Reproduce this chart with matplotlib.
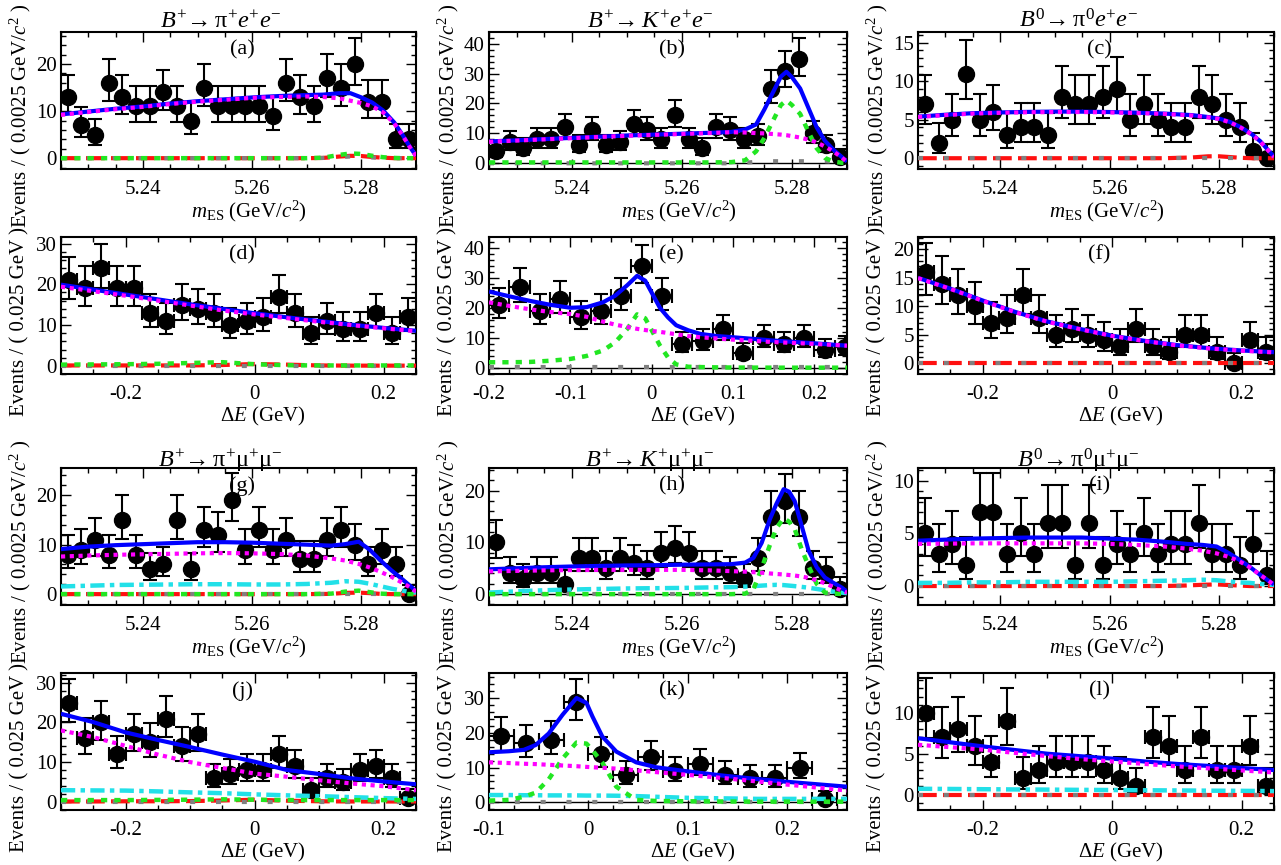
import numpy as np
import matplotlib
matplotlib.use('Agg')
import matplotlib.pyplot as plt
from matplotlib.ticker import MultipleLocator, FuncFormatter

plt.rcParams['font.family'] = ['Liberation Serif', 'DejaVu Serif']
plt.rcParams['mathtext.fontset'] = 'custom'
plt.rcParams['mathtext.rm'] = 'Liberation Serif'
plt.rcParams['mathtext.it'] = 'Liberation Serif:italic'
plt.rcParams['mathtext.bf'] = 'Liberation Serif:bold'
plt.rcParams['axes.unicode_minus'] = False

# ---- binned data (events per bin) ----
a_n = [13, 7, 5, 16, 13, 11, 11, 14, 11, 8, 15, 11, 11, 11, 11, 9, 16, 13, 11, 17, 15, 20, 12, 12, 4, 4]
b_n = [4, 7, 5, 8, 8, 12, 6, 11, 6, 7, 13, 11, 8, 16, 8, 5, 12, 11, 8, 9, 25, 31, 35, 10, 6, 2]
c_n = [7, 2, 5, 11, 5, 6, 3, 4, 4, 3, 8, 7, 7, 8, 9, 5, 7, 5, 4, 4, 8, 7, 5, 4, 1, 0]
d_n = [21, 19, 24, 19, 19, 13, 11, 15, 14, 13, 10, 11, 12, 17, 13, 8, 11, 9, 9, 13, 8, 12]
e_n = [21, 27, 19, 23, 17, 19, 24, 34, 24, 8, 9, 13, 5, 10, 8, 10, 6, 7]
f_n = [16, 14, 12, 10, 7, 8, 12, 8, 5, 6, 5, 4, 3, 6, 3, 2, 5, 5, 2, 0, 4, 2]
g_n = [8, 9, 11, 8, 15, 8, 5, 6, 15, 5, 13, 12, 19, 9, 13, 9, 11, 7, 7, 11, 13, 10, 6, 9, 6, 0]
h_n = [10, 4, 3, 4, 4, 2, 7, 7, 5, 7, 6, 5, 8, 9, 8, 5, 5, 4, 3, 7, 15, 18, 15, 5, 4, 1]
i_n = [5, 3, 4, 2, 7, 7, 3, 5, 3, 6, 6, 2, 6, 2, 4, 3, 5, 3, 4, 4, 6, 3, 3, 2, 4, 1]
j_n = [25, 16, 20, 12, 17, 15, 21, 14, 17, 6, 7, 8, 8, 12, 9, 3, 6, 5, 8, 9, 6, 1]
k_n = [19, 17, 18, 29, 14, 8, 13, 9, 11, 8, 7, 7, 10, 1]
l_n = [10, 7, 8, 6, 4, 9, 2, 3, 4, 4, 4, 3, 2, 1, 7, 6, 3, 7, 3, 3, 6, 1]

# ---- fit curves (x knots, then each component) ----
a_kx = [5.2250, 5.2300, 5.2350, 5.2400, 5.2450, 5.2500, 5.2550, 5.2600, 5.2650, 5.2700,
        5.2730, 5.2760, 5.2780, 5.2800, 5.2820, 5.2840, 5.2860, 5.2875, 5.2890, 5.2900]
a_tot = [9.3, 9.9, 10.5, 11.0, 11.6, 12.1, 12.5, 12.9, 13.2, 13.4, 13.5, 13.8, 13.8, 12.9, 11.8, 10.1, 7.6, 5.0, 2.2, 0.5]
a_comb = [9.2, 9.8, 10.4, 10.9, 11.5, 12.0, 12.4, 12.8, 13.0, 13.1, 13.0, 12.7, 12.2, 11.7, 11.0, 9.7, 7.4, 4.9, 2.1, 0.5]
a_sig = [0, 0, 0, 0, 0, 0, 0, 0, 0, 0, 0.1, 0.7, 1.0, 0.9, 0.5, 0.2, 0.05, 0, 0, 0]
a_peak = [0, 0, 0, 0, 0, 0, 0, 0, 0, 0, 0.05, 0.35, 0.5, 0.45, 0.25, 0.1, 0, 0, 0, 0]
a_gray = [0, 0, 0, 0, 0, 0, 0, 0, 0, 0, 0.05, 0.25, 0.35, 0.3, 0.15, 0.05, 0, 0, 0, 0]

b_kx = [5.2250, 5.2300, 5.2350, 5.2400, 5.2450, 5.2500, 5.2550, 5.2600, 5.2650, 5.2690, 5.2715, 5.2735,
        5.2750, 5.2765, 5.2780, 5.2790, 5.2800, 5.2815, 5.2830, 5.2845, 5.2860, 5.2875, 5.2890, 5.2900]
b_tot = [7.3, 7.7, 8.1, 8.5, 8.9, 9.3, 9.6, 9.9, 10.2, 10.5, 11.3, 13.0, 18.0, 23.5, 29.0, 30.6, 28.8, 25.0, 18.5, 12.0, 7.5, 4.6, 2.2, 0.6]
b_comb = [7.2, 7.6, 8.0, 8.4, 8.8, 9.2, 9.5, 9.8, 10.1, 10.4, 10.3, 10.1, 10.0, 9.8, 9.6, 9.4, 9.1, 8.6, 7.9, 7.0, 5.6, 4.0, 2.0, 0.5]
b_sig = [0.3, 0.3, 0.3, 0.3, 0.3, 0.3, 0.3, 0.3, 0.3, 0.4, 1.0, 4.0, 8.5, 14.0, 19.5, 21.0, 19.5, 16.5, 10.5, 5.0, 1.8, 0.6, 0.2, 0.1]
b_gray = [0, 0, 0, 0, 0, 0, 0, 0, 0, 0, 0.2, 0.5, 0.7, 0.7, 0.7, 0.7, 0.7, 0.7, 0.7, 0.7, 0.7, 0.5, 0.3, 0.2]

c_kx = [5.2250, 5.2300, 5.2350, 5.2400, 5.2450, 5.2500, 5.2550, 5.2600, 5.2650, 5.2700,
        5.2750, 5.2780, 5.2800, 5.2820, 5.2840, 5.2860, 5.2875, 5.2890, 5.2900]
c_tot = [5.4, 5.65, 5.85, 5.95, 6.02, 6.06, 6.05, 6.0, 5.92, 5.8, 5.6, 5.35, 5.15, 4.7, 4.0, 3.1, 2.2, 1.0, 0.2]
c_comb = [5.35, 5.6, 5.8, 5.9, 5.97, 6.0, 6.0, 5.95, 5.87, 5.75, 5.55, 5.3, 5.1, 4.65, 3.95, 3.05, 2.15, 0.95, 0.15]
c_peak = [0, 0, 0, 0, 0, 0, 0, 0, 0, 0, 0.1, 0.25, 0.25, 0.15, 0.05, 0, 0, 0, 0]
c_gray = [0, 0, 0, 0, 0, 0, 0, 0, 0, 0, 0, 0, 0, 0, 0, 0, 0, 0, 0]

d_kx = [-0.30, -0.25, -0.20, -0.15, -0.10, -0.05, 0.00, 0.05, 0.10, 0.15, 0.20, 0.25]
d_tot = [19.9, 18.7, 17.5, 16.3, 15.1, 14.0, 12.9, 11.9, 11.0, 10.1, 9.3, 8.6]
d_comb = [19.4, 18.3, 17.2, 16.0, 14.8, 13.6, 12.6, 11.7, 10.8, 10.0, 9.2, 8.5]
d_sig = [0.3, 0.35, 0.4, 0.5, 0.7, 0.9, 0.4, 0.15, 0.1, 0.1, 0.1, 0.1]
d_peak = [0.1, 0.1, 0.1, 0.1, 0.1, 0.2, 0.45, 0.3, 0.1, 0.05, 0.05, 0.05]
d_gray = [0, 0, 0, 0, 0, 0, 0, 0, 0, 0, 0, 0]

e_kx = [-0.200, -0.175, -0.150, -0.125, -0.100, -0.080, -0.060, -0.045, -0.030, -0.018, -0.008,
        0.000, 0.010, 0.020, 0.030, 0.045, 0.060, 0.080, 0.100, 0.150, 0.200, 0.240]
e_tot = [25.4, 23.8, 22.3, 21.0, 20.0, 20.2, 21.8, 24.0, 27.5, 30.6, 29.0, 25.0, 20.0, 16.8, 14.2, 12.5, 11.3, 10.6, 10.2, 9.1, 8.2, 7.4]
e_comb = [21.8, 20.6, 19.5, 18.6, 17.9, 17.0, 15.4, 14.4, 13.6, 13.0, 12.6, 12.3, 12.0, 11.6, 11.2, 10.6, 10.2, 9.8, 9.4, 8.6, 8.0, 7.4]
e_sig = [1.9, 1.9, 2.0, 2.4, 3.0, 4.0, 5.8, 8.5, 13.0, 17.8, 16.5, 12.5, 7.5, 3.5, 1.2, 0.4, 0.3, 0.2, 0.15, 0.1, 0.1, 0.1]
e_gray = [0.4, 0.4, 0.4, 0.4, 0.4, 0.4, 0.4, 0.4, 0.4, 0.4, 0.4, 0.4, 0.4, 0.4, 0.4, 0.4, 0.4, 0.4, 0.4, 0.4, 0.4, 0.4]

f_kx = [-0.30, -0.25, -0.20, -0.15, -0.10, -0.05, 0.00, 0.05, 0.10, 0.15, 0.20, 0.25]
f_tot = [15.0, 13.1, 11.0, 9.0, 7.3, 6.0, 4.8, 3.9, 3.15, 2.6, 2.2, 1.9]
f_comb = [14.95, 13.05, 10.95, 8.95, 7.25, 5.95, 4.75, 3.85, 3.1, 2.55, 2.15, 1.85]
f_peak = [0, 0, 0, 0, 0, 0, 0, 0, 0, 0, 0, 0]
f_gray = [0, 0, 0, 0, 0, 0, 0, 0, 0, 0, 0, 0]

g_kx = [5.2250, 5.2300, 5.2350, 5.2400, 5.2450, 5.2500, 5.2550, 5.2600, 5.2650, 5.2700,
        5.2745, 5.2770, 5.2795, 5.2815, 5.2835, 5.2855, 5.2875, 5.2890, 5.2900]
g_tot = [9.1, 9.6, 9.9, 10.1, 10.3, 10.5, 10.5, 10.4, 10.2, 10.0, 9.8, 10.1, 10.6, 9.0, 6.8, 4.8, 3.0, 1.6, 0.6]
g_comb = [7.6, 7.8, 7.95, 8.05, 8.15, 8.25, 8.3, 8.25, 8.1, 7.8, 7.2, 6.8, 6.1, 5.4, 4.5, 3.5, 2.3, 1.3, 0.5]
g_cyan = [1.55, 1.7, 1.85, 1.9, 1.95, 2.0, 2.0, 1.95, 1.95, 2.05, 2.3, 2.6, 2.5, 2.1, 1.6, 1.1, 0.7, 0.4, 0.3]
g_sig = [0, 0, 0, 0, 0, 0, 0, 0, 0, 0, 0.1, 0.5, 0.7, 0.4, 0.1, 0, 0, 0, 0]
g_peak = [0, 0, 0, 0, 0, 0, 0, 0, 0, 0, 0.05, 0.25, 0.3, 0.2, 0.05, 0, 0, 0, 0]
g_gray = [0, 0, 0, 0, 0, 0, 0, 0, 0, 0, 0, 0, 0, 0, 0, 0, 0, 0, 0]

h_kx = [5.2250, 5.2300, 5.2350, 5.2400, 5.2450, 5.2500, 5.2550, 5.2600, 5.2650, 5.2690, 5.2715, 5.2730, 5.2745,
        5.2760, 5.2772, 5.2785, 5.2795, 5.2805, 5.2818, 5.2830, 5.2845, 5.2860, 5.2875, 5.2890, 5.2900]
h_tot = [4.8, 5.0, 5.2, 5.35, 5.45, 5.55, 5.6, 5.7, 5.75, 5.8, 6.1, 7.0, 9.9, 14.5, 17.5, 20.3, 19.8, 18.0, 13.1, 8.5, 5.2, 3.2, 2.2, 1.3, 0.5]
h_comb = [4.4, 4.5, 4.6, 4.65, 4.7, 4.7, 4.7, 4.7, 4.6, 4.45, 4.35, 4.25, 4.15, 4.0, 3.9, 3.8, 3.7, 3.6, 3.4, 3.15, 2.7, 2.1, 1.4, 0.7, 0.3]
h_cyan = [0.3, 0.55, 0.75, 0.9, 1.0, 1.1, 1.15, 1.2, 1.3, 1.35, 1.45, 1.55, 1.65, 1.75, 1.8, 1.75, 1.65, 1.55, 1.4, 1.25, 1.0, 0.75, 0.5, 0.3, 0.2]
h_sig = [0, 0, 0, 0, 0, 0, 0, 0, 0, 0, 0.1, 0.9, 5.0, 9.5, 12.8, 14.7, 14.0, 12.6, 8.6, 5.5, 2.0, 0.3, 0.1, 0.05, 0]
h_gray = [0, 0, 0, 0, 0, 0, 0, 0, 0, 0, 0, 0, 0, 0, 0, 0, 0, 0, 0, 0, 0, 0, 0, 0, 0]

i_kx = [5.2250, 5.2300, 5.2350, 5.2400, 5.2450, 5.2500, 5.2550, 5.2600, 5.2650, 5.2700,
        5.2740, 5.2770, 5.2795, 5.2815, 5.2835, 5.2855, 5.2875, 5.2890, 5.2900]
i_tot = [4.3, 4.4, 4.5, 4.55, 4.6, 4.6, 4.6, 4.5, 4.4, 4.2, 4.0, 3.9, 3.75, 3.2, 2.55, 1.85, 1.05, 0.5, 0.15]
i_comb = [4.0, 4.02, 4.05, 4.05, 4.05, 4.05, 4.05, 4.0, 3.9, 3.75, 3.55, 3.35, 3.1, 2.8, 2.4, 1.8, 1.05, 0.5, 0.1]
i_cyan = [0.3, 0.3, 0.35, 0.35, 0.4, 0.4, 0.4, 0.4, 0.45, 0.5, 0.55, 0.6, 0.55, 0.45, 0.35, 0.3, 0.2, 0.15, 0.1]
i_peak = [0, 0, 0, 0, 0, 0, 0, 0, 0, 0, 0.05, 0.12, 0.15, 0.1, 0.05, 0, 0, 0, 0]
i_gray = [0, 0, 0, 0, 0, 0, 0, 0, 0, 0, 0, 0, 0, 0, 0, 0, 0, 0, 0]

j_kx = [-0.30, -0.25, -0.20, -0.15, -0.10, -0.05, 0.00, 0.05, 0.10, 0.15, 0.20, 0.25]
j_tot = [22.2, 20.1, 17.5, 15.6, 13.8, 11.9, 10.1, 8.0, 7.0, 5.9, 5.1, 4.4]
j_comb = [18.0, 16.3, 14.1, 11.9, 10.0, 8.5, 7.1, 6.3, 5.4, 4.6, 3.9, 2.9]
j_cyan = [2.9, 2.85, 2.8, 2.6, 2.35, 2.15, 1.85, 1.6, 1.4, 1.15, 0.9, 0.7]
j_sig = [0.4, 0.4, 0.4, 0.45, 0.5, 0.6, 0.5, 0.4, 0.4, 0.4, 0.4, 0.4]
j_peak = [0.05, 0.05, 0.1, 0.1, 0.15, 0.3, 0.5, 0.25, 0.1, 0.05, 0.05, 0.05]
j_gray = [0, 0, 0, 0, 0, 0, 0, 0, 0, 0, 0, 0]

k_kx = [-0.100, -0.080, -0.065, -0.053, -0.040, -0.026, -0.012, -0.002, 0.004, 0.014, 0.028,
        0.048, 0.068, 0.100, 0.135, 0.170, 0.200, 0.260]
k_tot = [14.4, 14.7, 15.1, 16.5, 19.8, 25.2, 30.0, 28.6, 24.7, 18.9, 14.6, 11.5, 10.1, 8.9, 7.7, 6.7, 5.9, 4.5]
k_comb = [11.5, 11.3, 11.1, 11.0, 10.8, 10.6, 10.4, 10.2, 10.1, 9.95, 9.7, 9.2, 8.7, 7.9, 7.0, 6.0, 5.1, 3.4]
k_sig = [0.5, 0.7, 1.6, 2.8, 6.6, 12.6, 17.2, 16.9, 15.0, 11.4, 4.5, 0.7, 0.4, 0.3, 0.25, 0.2, 0.2, 0.2]
k_cyan = [2.1, 2.1, 2.05, 2.05, 2.0, 2.0, 2.0, 1.95, 1.95, 1.95, 1.9, 1.8, 1.6, 1.3, 1.15, 1.0, 1.0, 1.0]
k_gray = [0, 0, 0, 0, 0, 0, 0, 0, 0, 0, 0, 0, 0, 0, 0, 0, 0, 0]

l_kx = [-0.30, -0.25, -0.20, -0.15, -0.10, -0.05, 0.00, 0.05, 0.10, 0.15, 0.20, 0.25]
l_tot = [6.9, 6.4, 5.9, 5.45, 5.0, 4.7, 4.4, 4.05, 3.75, 3.5, 3.25, 3.0]
l_comb = [6.1, 5.8, 5.5, 5.1, 4.7, 4.35, 4.05, 3.75, 3.45, 3.2, 2.95, 2.7]
l_cyan = [0.7, 0.68, 0.65, 0.62, 0.6, 0.57, 0.55, 0.52, 0.5, 0.47, 0.45, 0.42]
l_peak = [0, 0, 0, 0, 0, 0, 0, 0, 0, 0, 0, 0]
l_gray = [0, 0, 0, 0, 0, 0, 0, 0, 0, 0, 0, 0]

# titles / labels
titles = {
    'a': r'$B^{+}\!\rightarrow \mathrm{\pi}^{+}e^{+}e^{-}$',
    'b': r'$B^{+}\!\rightarrow K^{+}e^{+}e^{-}$',
    'c': r'$B^{\mathit{0}}\!\rightarrow \mathrm{\pi}^{\mathit{0}}e^{+}e^{-}$',
    'g': r'$B^{+}\!\rightarrow \mathrm{\pi}^{+}\mathrm{\mu}^{+}\mathrm{\mu}^{-}$',
    'h': r'$B^{+}\!\rightarrow K^{+}\mathrm{\mu}^{+}\mathrm{\mu}^{-}$',
    'i': r'$B^{\mathit{0}}\!\rightarrow \mathrm{\pi}^{\mathit{0}}\mathrm{\mu}^{+}\mathrm{\mu}^{-}$',
}
mes_xlabel = r'$m_{\mathrm{ES}}$ (GeV/$c^{2}$)'
de_xlabel = r'$\Delta E$ (GeV)'
mes_ylabel = r'Events / ( 0.0025 GeV/$c^{2}$ )'
de_ylabel = 'Events / ( 0.025 GeV )'

# panel geometry in pixels
W, H = 1281, 865
cols = [(61, 355), (489, 358), (918, 356)]
rows = [(32, 137), (237, 137), (468, 137), (673, 137)]

# (letter, row, col, kind, bin_lo, bin_w, counts, knots, curves, xlim, ylim, ymajor, xmajor, zero line)
panels = [
    ('a', 0, 0, 'mes', 5.225, 0.0025, a_n, a_kx,
     dict(gray=a_gray, red=a_peak, green=a_sig, blue=a_tot, magenta=a_comb),
     (5.225, 5.29), (-2.3, 26.8), 10, 0.02, False),
    ('b', 0, 1, 'mes', 5.225, 0.0025, b_n, b_kx,
     dict(gray=b_gray, green=b_sig, blue=b_tot, magenta=b_comb),
     (5.225, 5.29), (-1.9, 43.9), 10, 0.02, True),
    ('c', 0, 2, 'mes', 5.225, 0.0025, c_n, c_kx,
     dict(red=c_peak, gray=c_gray, blue=c_tot, magenta=c_comb),
     (5.225, 5.29), (-1.4, 16.4), 5, 0.02, False),
    ('d', 1, 0, 'de', -0.3, 0.025, d_n, d_kx,
     dict(gray=d_gray, red=d_peak, green=d_sig, blue=d_tot, magenta=d_comb),
     (-0.3, 0.25), (-2.0, 31.6), 10, 0.2, False),
    ('e', 1, 1, 'de', -0.2, 0.025, e_n, e_kx,
     dict(gray=e_gray, green=e_sig, blue=e_tot, magenta=e_comb),
     (-0.2, 0.24), (-2.0, 43.5), 10, 0.1, True),
    ('f', 1, 2, 'de', -0.3, 0.025, f_n, f_kx,
     dict(red=f_peak, gray=f_gray, blue=f_tot, magenta=f_comb),
     (-0.3, 0.25), (-1.95, 22.2), 5, 0.2, False),
    ('g', 2, 0, 'mes', 5.225, 0.0025, g_n, g_kx,
     dict(gray=g_gray, red=g_peak, cyan=g_cyan, green=g_sig, blue=g_tot, magenta=g_comb),
     (5.225, 5.29), (-2.2, 25.5), 10, 0.02, False),
    ('h', 2, 1, 'mes', 5.225, 0.0025, h_n, h_kx,
     dict(gray=h_gray, cyan=h_cyan, green=h_sig, blue=h_tot, magenta=h_comb),
     (5.225, 5.29), (-2.1, 24.4), 10, 0.02, True),
    ('i', 2, 2, 'mes', 5.225, 0.0025, i_n, i_kx,
     dict(red=i_peak, gray=i_gray, cyan=i_cyan, blue=i_tot, magenta=i_comb),
     (5.225, 5.29), (-1.8, 11.2), 5, 0.02, False),
    ('j', 3, 0, 'de', -0.3, 0.025, j_n, j_kx,
     dict(gray=j_gray, red=j_peak, cyan=j_cyan, green=j_sig, blue=j_tot, magenta=j_comb),
     (-0.3, 0.25), (-2.1, 32.5), 10, 0.2, False),
    ('k', 3, 1, 'de', -0.1, 0.025, k_n, k_kx,
     dict(gray=k_gray, cyan=k_cyan, green=k_sig, blue=k_tot, magenta=k_comb),
     (-0.1, 0.26), (-2.2, 37.2), 10, 0.1, True),
    ('l', 3, 2, 'de', -0.3, 0.025, l_n, l_kx,
     dict(red=l_peak, gray=l_gray, cyan=l_cyan, blue=l_tot, magenta=l_comb),
     (-0.3, 0.25), (-1.9, 14.9), 5, 0.2, False),
]

styles = {
    'gray': dict(color='#808080', lw=3.0, ls=(0, (1.2, 5.0)), zorder=4),
    'red': dict(color='#ff1010', lw=3.0, ls=(0, (4.5, 1.5)), zorder=3.5),
    'cyan': dict(color='#22e0e8', lw=3.2, ls=(0, (3.2, 1.2, 1.0, 1.2)), zorder=5),
    'green': dict(color='#22e622', lw=3.2, ls=(0, (1.4, 1.6)), zorder=6),
    'blue': dict(color='#0000ff', lw=3.0, ls='-', zorder=7),
    'magenta': dict(color='#ff00ff', lw=3.0, ls=(0, (1.0, 1.1)), zorder=8),
}


def garwood(n):
    # approximate 68% Poisson intervals (Wilson-Hilferty)
    n = np.asarray(n, dtype=float)
    m = np.maximum(n, 1.0)
    lo = np.where(n > 0, n * (1 - 1 / (9 * m) - 1 / (3 * np.sqrt(m))) ** 3, 0.0)
    up = (n + 1) * (1 - 1 / (9 * (n + 1)) + 1 / (3 * np.sqrt(n + 1))) ** 3
    return n - lo, up - n


def fmt(v, pos):
    v = round(v, 4)
    if v == 0:
        return '0'
    return f'{v:g}'


fig = plt.figure(figsize=(W / 100, H / 100), dpi=100)

for (let, r, c, kind, lo, bw, cnt, kx, curves, xlim, ylim, ymaj, xmaj, zero) in panels:
    left, w = cols[c]
    top, h = rows[r]
    ax = fig.add_axes([left / W, 1 - (top + h) / H, w / W, h / H])

    n = np.asarray(cnt, dtype=float)
    centers = lo + bw * (np.arange(len(n)) + 0.5)
    elo, eup = garwood(n)
    xerr = bw / 2 if kind == 'de' else None
    ax.errorbar(centers, n, yerr=[elo, eup], xerr=xerr, fmt='o', ms=11.5,
                color='black', ecolor='black', elinewidth=1.5, capsize=5,
                capthick=1.5, zorder=2)

    if zero:
        ax.axhline(0, color='black', lw=1.0, zorder=3)

    for name, yv in curves.items():
        st = styles[name]
        ax.plot(kx, yv, color=st['color'], lw=st['lw'], linestyle=st['ls'],
                zorder=st['zorder'], solid_capstyle='butt')

    ax.set_xlim(*xlim)
    ax.set_ylim(*ylim)
    ax.xaxis.set_major_locator(MultipleLocator(xmaj))
    ax.xaxis.set_minor_locator(MultipleLocator(xmaj / 4))
    ax.yaxis.set_major_locator(MultipleLocator(ymaj))
    ax.yaxis.set_minor_locator(MultipleLocator(ymaj / 5))
    ax.xaxis.set_major_formatter(FuncFormatter(fmt))
    ax.yaxis.set_major_formatter(FuncFormatter(fmt))
    ax.tick_params(which='both', direction='in', top=True, right=True, width=1.0)
    ax.tick_params(which='major', length=7, labelsize=15)
    ax.tick_params(which='minor', length=3.5)
    ax.tick_params(axis='x', pad=8)
    ax.tick_params(axis='y', pad=3)
    for sp in ax.spines.values():
        sp.set_linewidth(1.5)

    ax.text(0.51, 0.87, f'({let})', transform=ax.transAxes, ha='center',
            va='center', fontsize=16)

    if kind == 'mes':
        ax.text(0.53, -42 / h, mes_xlabel, transform=ax.transAxes,
                ha='center', va='center', fontsize=15)
        ax.text(-41 / w, 0.385, mes_ylabel, transform=ax.transAxes, rotation=90,
                ha='center', va='center', fontsize=15)
    else:
        ax.text(0.57, -42 / h, de_xlabel, transform=ax.transAxes,
                ha='center', va='center', fontsize=15)
        ax.text(-41 / w, 0.385, de_ylabel, transform=ax.transAxes, rotation=90,
                ha='center', va='center', fontsize=15)

    if let in titles:
        ty = 1.03 if r == 0 else 1.005
        ax.text(0.45, ty, titles[let], transform=ax.transAxes, ha='center',
                va='baseline', fontsize=17.5)

fig.savefig('out.png', dpi=100)
